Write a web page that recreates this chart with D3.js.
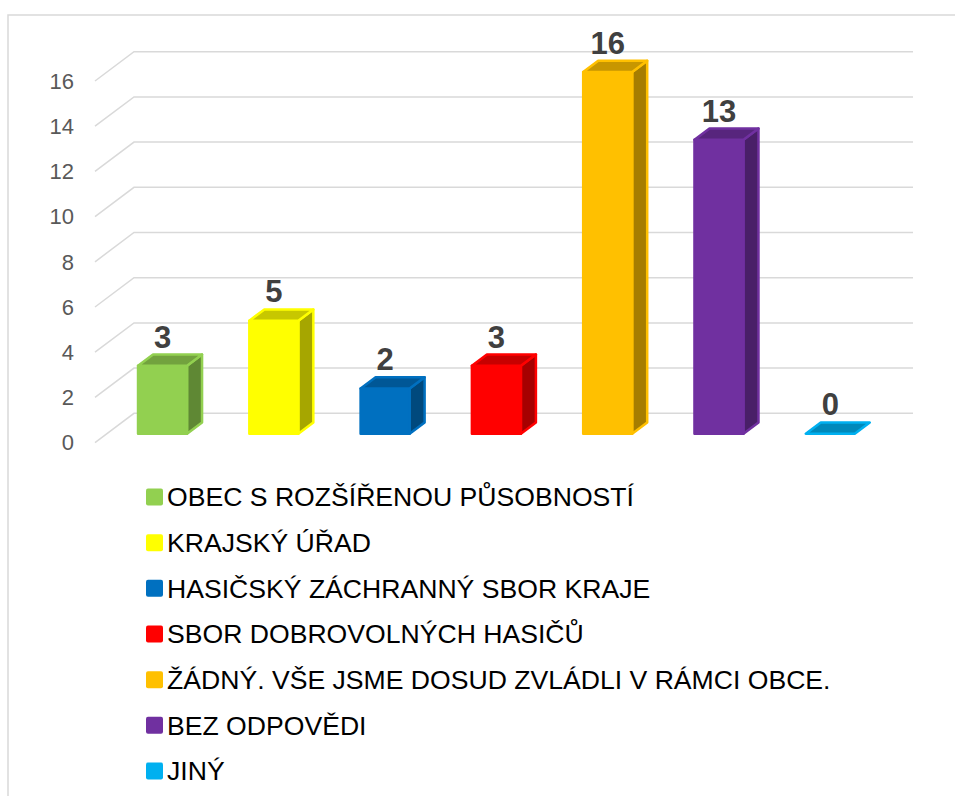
<!DOCTYPE html>
<html>
<head>
<meta charset="utf-8">
<style>
body { margin: 0; background: #fff; }
svg { display: block; }
.grid { stroke: #d9d9d9; stroke-width: 1.5; fill: none; }
.tick-label { font-family: "Liberation Sans", Arial, sans-serif; font-size: 22px; fill: #595959; }
.value-label { font-family: "Liberation Sans", Arial, sans-serif; font-size: 31px; font-weight: bold; fill: #404040; }
.legend-label { font-family: "Liberation Sans", Arial, sans-serif; font-size: 26.6px; fill: #000; }
</style>
</head>
<body>

<svg id="chart" width="955" height="796"></svg>

<script src="https://d3js.org/d3.v7.min.js"></script>
<script>

var categories = [
    "OBEC S ROZŠÍŘENOU PŮSOBNOSTÍ",
    "KRAJSKÝ ÚŘAD",
    "HASIČSKÝ ZÁCHRANNÝ SBOR KRAJE",
    "SBOR DOBROVOLNÝCH HASIČŮ",
    "ŽÁDNÝ. VŠE JSME DOSUD ZVLÁDLI V RÁMCI OBCE.",
    "BEZ ODPOVĚDI",
    "JINÝ"
];
var values = [3, 5, 2, 3, 16, 13, 0];
var colors = ["#92d050", "#ffff00", "#0070c0", "#ff0000", "#ffc000", "#7030a0", "#00b0f0"];
var tickValues = [0, 2, 4, 6, 8, 10, 12, 14, 16];

var svg = d3.select("#chart");

// outer frame, cut off at right and bottom
svg.append("path")
    .attr("d", "M8,800 L8,15 L960,15")
    .attr("fill", "none")
    .attr("stroke", "#d9d9d9")
    .attr("stroke-width", 1.5);

// scales on the back wall
var xScale = d3.scaleBand()
    .domain(categories)
    .range([134, 913]);

var yScale = d3.scaleLinear()
    .domain([0, 16])
    .range([413.3, 51.7]);

// depth: t = 0 back wall, t = 1 front edge of floor
var depthX = -39, depthY = 29.3;
function proj(x, v, t) {
    return [x + t * depthX, yScale(v) + t * depthY];
}

// gridlines: side wall diagonal + back wall
var grid = svg.append("g");
tickValues.forEach(function(v) {
    var f = proj(134, v, 1);
    grid.append("path")
        .attr("class", "grid")
        .attr("d", "M" + f[0] + "," + f[1] + " L134," + yScale(v) + " L913," + yScale(v));
});

// tick labels
svg.append("g").selectAll("text")
    .data(tickValues)
    .enter()
    .append("text")
    .attr("class", "tick-label")
    .attr("x", 74)
    .attr("y", function(v) { return proj(134, v, 1)[1]; })
    .attr("dy", "0.35em")
    .attr("text-anchor", "end")
    .text(function(v) { return v; });

// 3d bars
var tFront = 0.695, tBack = 0.31;
var barW = 49;

function darker(c, k) { return d3.color(c).darker(k).formatHex(); }
function poly(pts) { return "M" + pts.map(function(p) { return p.join(","); }).join(" L") + " Z"; }

function face(g, pts, fill, c) {
    g.append("path")
        .attr("d", poly(pts))
        .attr("fill", fill)
        .attr("stroke", c)
        .attr("stroke-width", 2.5)
        .attr("stroke-linejoin", "round");
}

svg.append("g").selectAll("g")
    .data(values)
    .enter()
    .append("g")
    .each(function(v, i) {
        var g = d3.select(this);
        var c = colors[i];
        var cx = xScale(categories[i]) + xScale.bandwidth() / 2;
        var x0 = cx - barW / 2, x1 = cx + barW / 2;
        var fbl = proj(x0, 0, tFront), fbr = proj(x1, 0, tFront),
            ftl = proj(x0, v, tFront), ftr = proj(x1, v, tFront),
            bbr = proj(x1, 0, tBack), btl = proj(x0, v, tBack), btr = proj(x1, v, tBack);

        if (v > 0) {
            face(g, [fbr, bbr, btr, ftr], darker(c, 1.2), c);   // side
            face(g, [fbl, fbr, ftr, ftl], c, c);                 // front
        }
        face(g, [ftl, ftr, btr, btl], darker(c, 0.7), c);       // top

        g.append("text")
            .attr("class", "value-label")
            .attr("x", cx + tFront * depthX)
            .attr("y", btl[1] - 7)
            .attr("text-anchor", "middle")
            .text(v);
    });

// legend
var legend = svg.append("g").selectAll("g")
    .data(categories)
    .enter()
    .append("g")
    .attr("transform", function(d, i) { return "translate(146," + (497 + i * 45.67) + ")"; });

legend.append("rect")
    .attr("x", 0)
    .attr("y", -8.5)
    .attr("width", 17)
    .attr("height", 17)
    .attr("rx", 2)
    .attr("fill", function(d, i) { return colors[i]; });

legend.append("text")
    .attr("class", "legend-label")
    .attr("x", 21)
    .attr("y", 0)
    .attr("dy", "0.35em")
    .text(function(d) { return d; });

</script>
</body>
</html>
